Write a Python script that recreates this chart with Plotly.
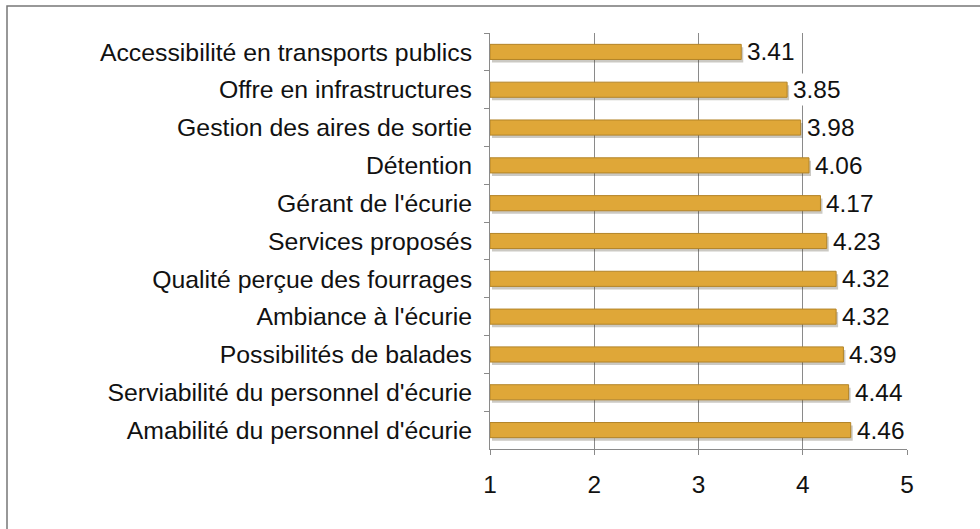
import plotly.graph_objects as go

categories = [
    "Accessibilité en transports publics",
    "Offre en infrastructures",
    "Gestion des aires de sortie",
    "Détention",
    "Gérant de l'écurie",
    "Services proposés",
    "Qualité perçue des fourrages",
    "Ambiance à l'écurie",
    "Possibilités de balades",
    "Serviabilité du personnel d'écurie",
    "Amabilité du personnel d'écurie",
]
values = [3.41, 3.85, 3.98, 4.06, 4.17, 4.23, 4.32, 4.32, 4.39, 4.44, 4.46]
x_ticks = [1, 2, 3, 4, 5]

W, H = 980, 529
ML, MR, MT, MB = 490, 73, 33, 80
pw, ph = W - ML - MR, H - MT - MB
FONT = "Liberation Sans, Arial, Helvetica, sans-serif"
n = len(categories)

# pixel offsets for a drop shadow (shadow drawn on main axes, bars on overlay)
dx = 2.0 * 4 / pw
dy = 3.0 * n / ph

fig = go.Figure()
# shadow
fig.add_trace(go.Bar(
    y=categories, x=[v - 1 for v in values], base=1, orientation="h",
    marker=dict(color="rgba(70,60,40,0.28)", line=dict(width=0)),
    width=0.4, hoverinfo="skip",
))
# bars
fig.add_trace(go.Bar(
    y=categories, x=[v - 1 for v in values], base=1, orientation="h",
    marker=dict(color="#DFA738", line=dict(color="#B38428", width=1)),
    width=0.4, xaxis="x2", yaxis="y2",
))
for c, v in zip(categories, values):
    fig.add_annotation(
        x=v, y=c, xref="x2", yref="y2", text=f"{v:.2f}", showarrow=False,
        xanchor="left", yanchor="middle", xshift=3, bgcolor="white", borderpad=2,
        font=dict(size=24.4, color="#111", family=FONT),
    )

fig.update_layout(
    width=W, height=H,
    margin=dict(l=ML, r=MR, t=MT, b=MB, autoexpand=False),
    paper_bgcolor="white", plot_bgcolor="white",
    showlegend=False,
    font=dict(family=FONT, size=24.4, color="#111"),
    xaxis=dict(
        range=[1 - dx, 5 - dx], tickvals=x_ticks, ticktext=[str(t) for t in x_ticks],
        showgrid=False, showline=False, showticklabels=False, zeroline=False,
        automargin=False,
    ),
    yaxis=dict(
        type="category", categoryarray=categories, categoryorder="array",
        range=[n - 0.5 - dy, -0.5 - dy],
        showgrid=False, showline=False, showticklabels=False, zeroline=False,
        automargin=False,
    ),
    xaxis2=dict(
        overlaying="x", anchor="y2",
        range=[1, 5], tickvals=x_ticks, ticktext=[str(t) for t in x_ticks],
        showgrid=True, gridcolor="#8a8a8a", gridwidth=1,
        showline=True, linecolor="#8a8a8a", linewidth=1,
        ticks="outside", ticklen=5, tickcolor="#8a8a8a",
        ticklabelstandoff=9, zeroline=False, automargin=False,
        tickfont=dict(size=24.4), layer="below traces",
    ),
    yaxis2=dict(
        overlaying="y", anchor="x2",
        type="category", categoryarray=categories, categoryorder="array",
        range=[n - 0.5, -0.5],
        showline=True, linecolor="#8a8a8a", linewidth=1,
        ticks="outside", tickson="boundaries", ticklen=5, tickcolor="#8a8a8a",
        ticklabelstandoff=12, showgrid=False, automargin=False,
        tickfont=dict(size=24.8),
    ),
)
# outer frame (left & top visible)
fig.add_shape(type="rect", xref="paper", yref="paper",
              x0=(7 - ML) / pw, x1=(W + 20 - ML) / pw,
              y0=-(H + 20 - MT - ph) / ph, y1=(ph + MT - 6) / ph,
              line=dict(color="#777", width=1.5), layer="below")
fig.write_html("out.html", config={"displayModeBar": False},
               post_script="document.body.style.margin='0px';")
